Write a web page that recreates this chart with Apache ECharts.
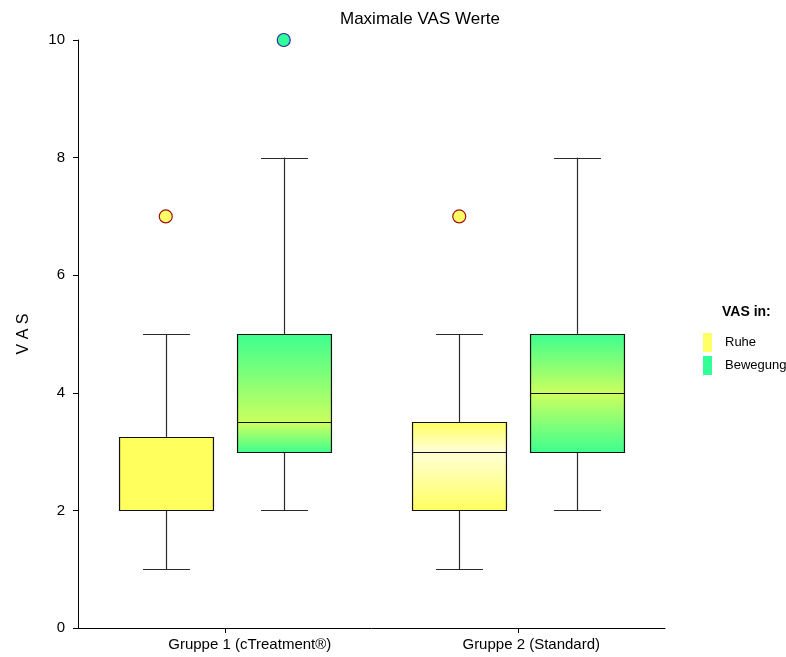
<!DOCTYPE html>
<html><head><meta charset="utf-8">
<script src="https://cdn.jsdelivr.net/npm/echarts@6/dist/echarts.min.js"></script>
<style>html,body{margin:0;padding:0;background:#fff}#c{width:786px;height:657px}</style>
</head><body><div id="c"></div>
<script>
const categories = ['Gruppe 1 (cTreatment®)', 'Gruppe 2 (Standard)'];
// [categoryIndex, min, q1, median, q3, max]
const ruheStats = [[0, 1, 2, 2, 3.25, 5], [1, 1, 2, 3, 3.5, 5]];
const bewegungStats = [[0, 2, 3, 3.5, 5, 8], [1, 2, 3, 4, 5, 8]];
// [categoryIndex, value]
const ruheOutliers = [[0, 7], [1, 7]];
const bewegungOutliers = [[0, 10]];
const yTicks = [0, 2, 4, 6, 8, 10];

const chart = echarts.init(document.getElementById('c'));

function boxRenderer(offFrac, edge, light) {
  return function (params, api) {
    const cat = api.value(0);
    const band = api.size([1, 0])[0];
    const off = offFrac * band;
    const bw = 0.32 * band, cw = 0.16 * band;
    const pMin = api.coord([cat, api.value(1)]);
    const pQ1 = api.coord([cat, api.value(2)]);
    const pMed = api.coord([cat, api.value(3)]);
    const pQ3 = api.coord([cat, api.value(4)]);
    const pMax = api.coord([cat, api.value(5)]);
    const cx = Math.round(pMin[0] + off) + 0.5;
    const f = (api.value(4) - api.value(3)) / (api.value(4) - api.value(2));
    let fill;
    if (f <= 0.001 || f >= 0.999) fill = edge;
    else fill = new echarts.graphic.LinearGradient(0, 0, 0, 1, [
      { offset: 0, color: edge }, { offset: f, color: light }, { offset: 1, color: edge }]);
    const ls = { stroke: '#2a2a2a', lineWidth: 1.2 };
    const r = v => Math.round(v) + 0.5;
    return {
      type: 'group',
      children: [
        { type: 'line', shape: { x1: cx, y1: pMax[1], x2: cx, y2: pQ3[1] }, style: ls },
        { type: 'line', shape: { x1: cx, y1: pQ1[1], x2: cx, y2: pMin[1] }, style: ls },
        { type: 'line', shape: { x1: cx - cw / 2, y1: r(pMax[1]), x2: cx + cw / 2, y2: r(pMax[1]) }, style: ls },
        { type: 'line', shape: { x1: cx - cw / 2, y1: r(pMin[1]), x2: cx + cw / 2, y2: r(pMin[1]) }, style: ls },
        { type: 'rect', shape: { x: cx - bw / 2, y: r(pQ3[1]), width: bw, height: Math.round(pQ1[1]) - Math.round(pQ3[1]) },
          style: { fill: fill, stroke: '#111', lineWidth: 1.2 } },
        { type: 'line', shape: { x1: cx - bw / 2, y1: r(pMed[1]), x2: cx + bw / 2, y2: r(pMed[1]) }, style: { stroke: '#111', lineWidth: 1.2 } }
      ]
    };
  };
}

function outlierRenderer(offFrac, fill, stroke) {
  return function (params, api) {
    const band = api.size([1, 0])[0];
    const p = api.coord([api.value(0), api.value(1)]);
    return { type: 'circle', shape: { cx: p[0] + offFrac * band, cy: p[1], r: 6.5 },
      style: { fill: fill, stroke: stroke, lineWidth: 1.2 } };
  };
}

chart.setOption({
  animation: false,
  backgroundColor: '#fff',
  textStyle: { fontFamily: 'Arial, "Liberation Sans", sans-serif' },
  title: [
    { text: 'Maximale VAS Werte', left: 340, top: 11, padding: 0,
      textStyle: { fontSize: 17, fontWeight: 'normal', color: '#000' } },
    { text: 'VAS in:', left: 722, top: 305, padding: 0,
      textStyle: { fontSize: 14, fontWeight: 'bold', color: '#000' } }
  ],
  legend: {
    orient: 'vertical', left: 703, top: 333, padding: 0, itemWidth: 9, itemHeight: 19, itemGap: 4,
    icon: 'rect', data: ['Ruhe', 'Bewegung'],
    textStyle: { fontSize: 13, color: '#000', padding: [0, 0, 0, 8] }
  },
  grid: { left: 78, right: 121, top: 40, bottom: 29, containLabel: false },
  xAxis: {
    type: 'category', boundaryGap: true,
    data: [
      { value: categories[0], textStyle: { padding: [0, 0, 0, 50] } },
      { value: categories[1], textStyle: { padding: [0, 0, 0, 26] } }
    ],
    axisLine: { lineStyle: { color: '#000' } },
    axisTick: { show: true, alignWithLabel: true, interval: 0, length: 5, lineStyle: { color: '#000' } },
    axisLabel: { fontSize: 15, color: '#000', margin: 9, interval: 0 },
    splitLine: { show: false }
  },
  yAxis: {
    type: 'value', min: yTicks[0], max: yTicks[yTicks.length - 1], interval: 2,
    name: 'V A S', nameLocation: 'middle', nameRotate: 90, nameGap: 46,
    nameTextStyle: { fontSize: 16, color: '#000' },
    axisLine: { show: true, lineStyle: { color: '#000' } },
    axisTick: { show: true, length: 5, lineStyle: { color: '#000' } },
    axisLabel: { fontSize: 15, color: '#000', margin: 13 },
    splitLine: { show: false }
  },
  series: [
    { name: 'Ruhe', type: 'custom', data: ruheStats, encode: { x: 0, y: [1, 2, 3, 4, 5] },
      itemStyle: { color: '#ffff66' }, renderItem: boxRenderer(-0.201, '#ffff5e', '#ffffd8') },
    { name: 'Bewegung', type: 'custom', data: bewegungStats, encode: { x: 0, y: [1, 2, 3, 4, 5] },
      itemStyle: { color: '#33ff99' }, renderItem: boxRenderer(0.201, '#3dff8f', '#ccff5e') },
    { name: 'Ruhe', type: 'custom', data: ruheOutliers, encode: { x: 0, y: 1 },
      itemStyle: { color: '#ffff66' }, renderItem: outlierRenderer(-0.201, '#ffff66', '#a01010') },
    { name: 'Bewegung', type: 'custom', data: bewegungOutliers, encode: { x: 0, y: 1 },
      itemStyle: { color: '#33ff99' }, renderItem: outlierRenderer(0.201, '#33ff99', '#2a2aa0') }
  ]
});
</script></body></html>
